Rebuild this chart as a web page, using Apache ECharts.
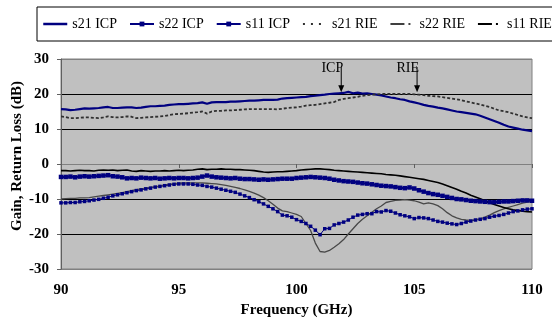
<!DOCTYPE html>
<html><head><meta charset="utf-8">
<script src="https://cdn.jsdelivr.net/npm/echarts@6/dist/echarts.min.js"></script>
<style>html,body{margin:0;padding:0;background:#fff}#c{width:552px;height:324px}</style>
</head><body><div id="c"></div>
<script>
// Frequency (GHz)
const freq = [
90,90.2,90.4,90.6,90.8,91,91.2,91.4,91.6,91.8,
92,92.2,92.4,92.6,92.8,93,93.2,93.4,93.6,93.8,
94,94.2,94.4,94.6,94.8,95,95.2,95.4,95.6,95.8,
96,96.2,96.4,96.6,96.8,97,97.2,97.4,97.6,97.8,
98,98.2,98.4,98.6,98.8,99,99.2,99.4,99.6,99.8,
100,100.2,100.4,100.6,100.8,101,101.2,101.4,101.6,101.8,
102,102.2,102.4,102.6,102.8,103,103.2,103.4,103.6,103.8,
104,104.2,104.4,104.6,104.8,105,105.2,105.4,105.6,105.8,
106,106.2,106.4,106.6,106.8,107,107.2,107.4,107.6,107.8,
108,108.2,108.4,108.6,108.8,109,109.2,109.4,109.6,109.8,
110];
const s21ICP = [
15.7,15.6,15.4,15.5,15.7,15.9,15.8,15.9,16.0,16.2,
16.3,16.0,16.0,16.1,16.2,16.2,16.0,16.1,16.3,16.5,
16.5,16.6,16.7,16.9,17.0,17.1,17.1,17.2,17.3,17.4,
17.6,17.2,17.6,17.7,17.7,17.7,17.8,17.8,17.9,18.0,
18.1,18.1,18.2,18.3,18.3,18.3,18.4,18.7,18.8,18.9,
19.0,19.1,19.2,19.4,19.5,19.7,19.8,20.0,20.1,20.2,
20.3,20.6,20.2,20.4,20.1,20.2,20.0,19.8,19.6,19.3,
19.0,18.8,18.5,18.3,17.9,17.6,17.3,16.9,16.6,16.4,
16.1,15.9,15.6,15.3,15.0,14.8,14.6,14.4,14.2,13.8,
13.3,12.8,12.3,11.8,11.2,10.7,10.4,10.1,9.8,9.6,
9.4];
const s22ICP = [
-11.1,-11.1,-11.0,-11.0,-10.8,-10.7,-10.5,-10.3,-10.1,-9.8,
-9.5,-9.1,-8.8,-8.5,-8.2,-7.9,-7.6,-7.4,-7.1,-6.9,
-6.6,-6.4,-6.2,-6.0,-5.8,-5.7,-5.7,-5.7,-5.8,-6.0,
-6.1,-6.4,-6.6,-6.9,-7.2,-7.5,-7.8,-8.1,-8.6,-9.1,
-9.6,-10.2,-10.8,-11.4,-12.1,-12.8,-13.6,-14.6,-14.8,-15.2,
-15.9,-16.4,-17.0,-17.8,-18.9,-20.2,-18.5,-18.4,-17.4,-17.0,
-16.6,-16.0,-15.2,-14.6,-14.4,-14.2,-14.2,-13.6,-13.7,-13.3,
-13.5,-14.0,-14.5,-14.8,-15.1,-15.6,-15.3,-15.4,-15.6,-16.0,
-16.4,-16.6,-16.9,-17.1,-17.3,-17.0,-16.6,-16.3,-16.0,-15.8,
-15.6,-15.2,-14.9,-14.7,-14.4,-14.0,-13.6,-13.4,-13.1,-12.9,
-12.8];
const s11ICP = [
-3.7,-3.7,-3.6,-3.8,-3.6,-3.5,-3.6,-3.5,-3.4,-3.3,
-3.2,-3.5,-3.6,-3.8,-4.1,-4.0,-4.1,-3.9,-4.0,-4.1,
-4.0,-4.2,-4.1,-4.0,-4.1,-4.0,-4.0,-4.1,-4.0,-3.9,
-3.6,-3.3,-3.6,-3.8,-3.9,-4.0,-4.1,-4.0,-4.2,-4.3,
-4.3,-4.4,-4.5,-4.4,-4.5,-4.4,-4.3,-4.2,-4.2,-4.2,
-4.0,-3.9,-3.8,-3.7,-3.8,-3.9,-4.0,-4.2,-4.5,-4.7,
-4.9,-5.0,-5.1,-5.3,-5.5,-5.6,-5.8,-6.0,-6.2,-6.3,
-6.4,-6.6,-6.8,-6.9,-6.7,-7.0,-7.5,-7.9,-8.3,-8.6,
-8.8,-9.1,-9.4,-9.7,-10.0,-10.1,-10.3,-10.5,-10.6,-10.7,
-10.8,-10.9,-10.9,-10.8,-10.7,-10.7,-10.6,-10.5,-10.4,-10.4,
-10.5];
const s21RIE = [
13.6,13.4,13.1,13.1,13.2,13.3,13.3,13.2,13.1,13.3,
13.6,13.4,13.3,13.4,13.6,13.5,13.1,13.2,13.3,13.4,
13.5,13.6,13.7,14.0,14.2,14.3,14.4,14.5,14.7,14.8,
15.0,14.4,15.0,15.2,15.2,15.3,15.3,15.4,15.5,15.6,
15.7,15.7,15.7,15.7,15.7,15.7,15.6,15.8,16.0,16.1,
16.2,16.4,16.7,16.8,16.9,17.1,17.3,17.5,17.7,18.3,
18.6,18.8,19.0,19.2,19.5,19.7,19.8,19.9,20.0,20.0,
20.0,20.0,20.0,20.0,20.0,19.9,19.8,19.7,19.5,19.4,
19.3,19.1,18.9,18.7,18.5,18.2,17.9,17.6,17.3,17.0,
16.6,16.3,15.8,15.3,15.1,14.8,14.4,14.0,13.6,13.3,
13.1];
const s22RIE = [
-10.0,-9.9,-9.8,-9.8,-9.7,-9.7,-9.6,-9.4,-9.2,-9.0,
-8.8,-8.6,-8.4,-8.2,-7.9,-7.6,-7.3,-7.1,-6.9,-6.7,
-6.5,-6.3,-6.0,-5.8,-5.6,-5.5,-5.4,-5.4,-5.4,-5.4,
-5.4,-5.5,-5.6,-5.7,-5.9,-6.1,-6.4,-6.7,-7.0,-7.4,
-7.8,-8.3,-8.9,-9.6,-10.5,-11.5,-12.6,-13.4,-13.6,-14.0,
-14.4,-15.0,-17.0,-19.0,-22.6,-25.0,-25.2,-24.7,-23.8,-22.8,
-21.6,-20.0,-18.5,-17.0,-15.8,-14.8,-13.8,-12.8,-12.0,-11.0,
-10.7,-10.4,-10.3,-10.2,-10.3,-10.5,-10.9,-11.4,-11.1,-11.4,
-11.9,-12.8,-13.9,-14.8,-15.4,-15.8,-16.0,-16.1,-15.9,-15.7,
-15.2,-14.6,-13.9,-13.3,-12.8,-12.4,-12.0,-11.6,-11.2,-10.9,
-10.7];
const s11RIE = [
-1.9,-1.9,-2.0,-1.9,-1.8,-1.9,-1.9,-2.0,-1.8,-1.7,
-1.8,-1.7,-1.9,-1.8,-1.7,-2.0,-2.1,-1.9,-2.0,-2.1,
-2.0,-2.0,-1.9,-2.0,-1.9,-1.8,-1.9,-1.8,-1.7,-1.5,
-1.4,-1.6,-1.5,-1.5,-1.4,-1.5,-1.5,-1.6,-1.6,-1.7,
-1.8,-1.9,-2.1,-2.3,-2.4,-2.3,-2.2,-2.2,-2.1,-2.0,
-1.9,-1.7,-1.6,-1.5,-1.4,-1.4,-1.5,-1.6,-1.8,-1.9,
-2.0,-2.1,-2.2,-2.3,-2.4,-2.5,-2.6,-2.7,-2.8,-3.0,
-3.1,-3.2,-3.4,-3.6,-3.8,-4.0,-4.2,-4.4,-4.7,-5.0,
-5.3,-5.7,-6.2,-6.7,-7.2,-7.8,-8.3,-8.9,-9.4,-9.9,
-10.5,-11.1,-11.6,-12.0,-12.4,-12.8,-13.1,-13.3,-13.5,-13.6,
-13.7];
const seriesNames = ['s21 ICP','s22 ICP','s11 ICP','s21 RIE','s22 RIE','s11 RIE'];
const xTicks = [90, 95, 100, 105, 110];
const yTicks = [-30, -20, -10, 0, 10, 20, 30];
const annoLabels = ['ICP', 'RIE'];
const annoFreq = [101.9, 105.12];
const annoFrom = [27.7, 27.7];
const annoTo = [20.5, 20.5];
const xTitle = 'Frequency (GHz)';
const yTitle = 'Gain, Return Loss (dB)';

const FONT = "'Liberation Serif','Times New Roman',serif";
function pairs(v) { return freq.map((f, i) => [f, v[i]]); }

const chart = echarts.init(document.getElementById('c'), null, {renderer: 'canvas'});
const NAVY = '#000080';
const HIDE = {color: 'rgba(0,0,0,0)', borderWidth: 0, opacity: 0};
const option = {
  animation: false,
  backgroundColor: '#ffffff',
  textStyle: {fontFamily: FONT},
  grid: {left: 61, right: 20, top: 59, bottom: 55, show: true,
         backgroundColor: '#c0c0c0', borderColor: '#808080', borderWidth: 1},
  legend: {
    left: 37, top: 7, width: 640, padding: [8, 40, 8, 5], itemGap: 12, itemWidth: 24, itemHeight: 6,
    borderColor: '#000', borderWidth: 1, backgroundColor: '#fff',
    textStyle: {fontFamily: FONT, fontSize: 14, color: '#000', lineHeight: 18},
    data: [
      {name: seriesNames[0], itemStyle: HIDE, lineStyle: {width: 2.5}},
      {name: seriesNames[1]},
      {name: seriesNames[2]},
      {name: seriesNames[3], itemStyle: HIDE, lineStyle: {type: [2, 6], width: 2}},
      {name: seriesNames[4], itemStyle: HIDE, lineStyle: {type: [14, 4, 2, 10], width: 2, color: '#404040'}},
      {name: seriesNames[5], itemStyle: HIDE, lineStyle: {type: [14, 4, 2, 10], width: 2}}
    ]
  },
  xAxis: {
    type: 'value', min: xTicks[0], max: xTicks[xTicks.length - 1], interval: 5,
    name: xTitle, nameLocation: 'middle', nameGap: 30,
    nameTextStyle: {fontFamily: FONT, fontSize: 15, fontWeight: 'bold', color: '#000'},
    axisLine: {show: true, lineStyle: {color: '#808080', width: 1}},
    axisTick: {show: true, length: 4, lineStyle: {color: '#606060'}},
    axisLabel: {fontFamily: FONT, fontSize: 15, fontWeight: 'bold', color: '#000', margin: 14},
    splitLine: {show: false}
  },
  yAxis: {
    type: 'value', min: yTicks[0], max: yTicks[yTicks.length - 1], interval: 10,
    axisLine: {show: true, lineStyle: {color: '#606060', width: 1}},
    axisTick: {show: true, length: 4, lineStyle: {color: '#606060'}},
    axisLabel: {fontFamily: FONT, fontSize: 15, fontWeight: 'bold', color: '#000', margin: 12},
    splitLine: {show: true, lineStyle: {width: 1,
      color: ['#808080', '#000', '#000', '#000', '#000', '#000', '#808080']}}
  },
  series: [
    {name: seriesNames[0], type: 'line', data: pairs(s21ICP), symbol: 'none',
     lineStyle: {color: NAVY, width: 2.2}, itemStyle: {color: NAVY}},
    {name: seriesNames[1], type: 'line', data: pairs(s22ICP), symbol: 'rect', symbolSize: 3.5,
     showAllSymbol: true, lineStyle: {color: NAVY, width: 1}, itemStyle: {color: NAVY}},
    {name: seriesNames[2], type: 'line', data: pairs(s11ICP), symbol: 'rect', symbolSize: 4.5,
     showAllSymbol: true, lineStyle: {color: NAVY, width: 2}, itemStyle: {color: NAVY}},
    {name: seriesNames[3], type: 'line', data: pairs(s21RIE), symbol: 'none',
     lineStyle: {color: '#303030', width: 1.8, type: [3, 2]}, itemStyle: {color: '#303030'}},
    {name: seriesNames[4], type: 'line', data: pairs(s22RIE), symbol: 'none',
     lineStyle: {color: '#484848', width: 1.3}, itemStyle: {color: '#484848'}},
    {name: seriesNames[5], type: 'line', data: pairs(s11RIE), symbol: 'none',
     lineStyle: {color: '#000', width: 1.6}, itemStyle: {color: '#000'}}
  ]
};
chart.setOption(option);

// annotations (arrows with labels) placed in data coordinates
const g = [];
annoLabels.forEach((lab, i) => {
  const p0 = chart.convertToPixel({gridIndex: 0}, [annoFreq[i], annoFrom[i]]);
  const p1 = chart.convertToPixel({gridIndex: 0}, [annoFreq[i], annoTo[i]]);
  g.push({type: 'line', shape: {x1: p0[0], y1: p0[1], x2: p1[0], y2: p1[1] - 5},
          style: {stroke: '#000', lineWidth: 1}, z: 100});
  g.push({type: 'polygon', shape: {points: [[p1[0] - 3, p1[1] - 7], [p1[0] + 3, p1[1] - 7], [p1[0], p1[1]]]},
          style: {fill: '#000'}, z: 100});
  g.push({type: 'text', x: p0[0] + 2, y: p0[1] + 1, z: 100,
          style: {text: lab, font: '14px ' + FONT, fill: '#000', textAlign: 'right', textVerticalAlign: 'middle'}});
});
g.push({type: 'text', x: 17, y: 156, rotation: Math.PI / 2, z: 100,
        style: {text: yTitle, font: 'bold 15px ' + FONT, fill: '#000', textAlign: 'center', textVerticalAlign: 'middle'}});
chart.setOption({graphic: g});
</script>
</body></html>
